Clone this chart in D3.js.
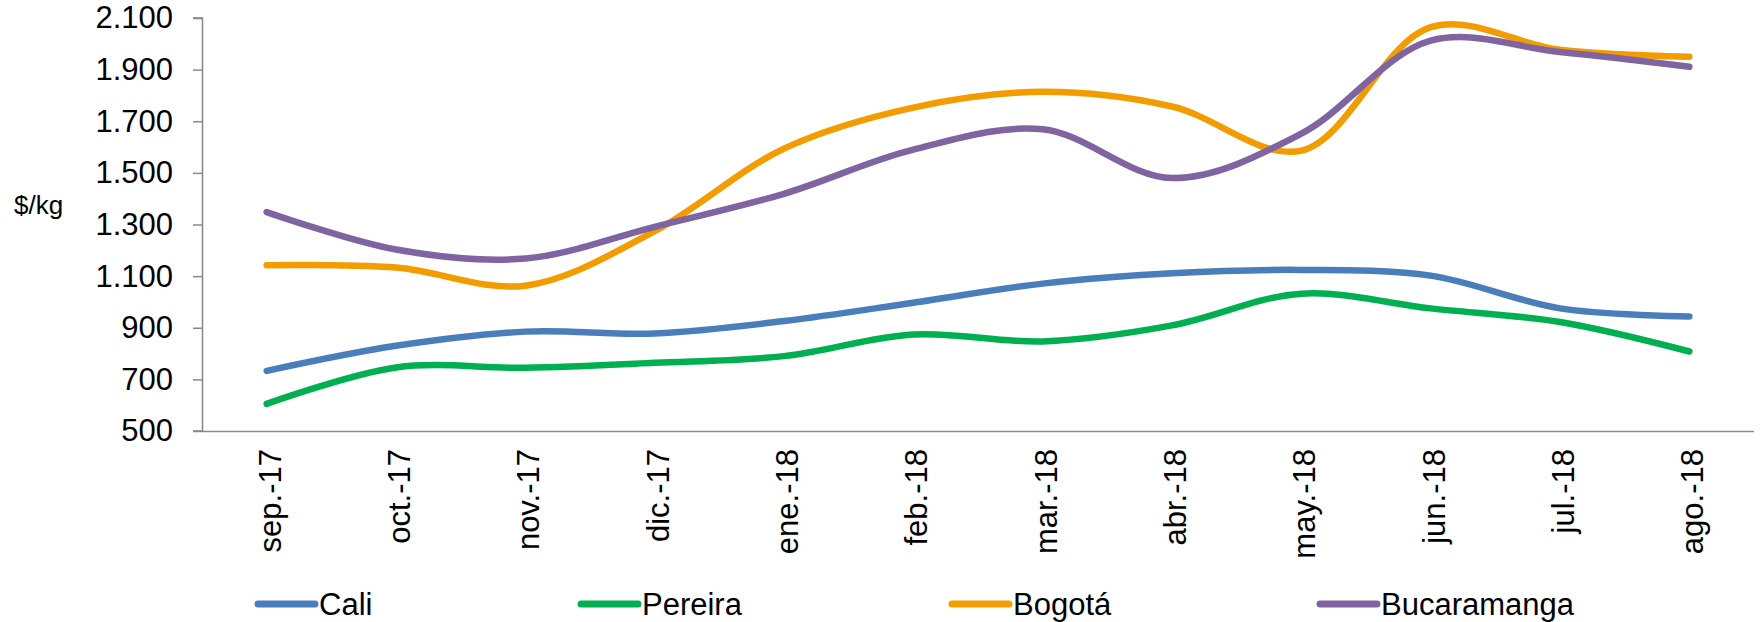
<!DOCTYPE html>
<html>
<head>
<meta charset="utf-8">
<script src="https://cdn.jsdelivr.net/npm/d3@7"></script>
<style>
  body { margin: 0; background: #fff; overflow: hidden; }
  text { font-family: "Liberation Sans", Arial, sans-serif; fill: #000; }
</style>
</head>
<body>
<div id="chart"></div>
<script>
// Months on the x axis
const months = ['sep.-17', 'oct.-17', 'nov.-17', 'dic.-17', 'ene.-18', 'feb.-18',
  'mar.-18', 'abr.-18', 'may.-18', 'jun.-18', 'jul.-18', 'ago.-18'];

// Price per city ($/kg)
const cali = [733, 830, 885, 878, 926, 997, 1071, 1111, 1124, 1102, 975, 944];
const pereira = [605, 746, 745, 764, 790, 874, 847, 909, 1032, 975, 922, 808];
const bogota = [1142, 1133, 1063, 1274, 1594, 1753, 1814, 1757, 1586, 2065, 1977, 1950];
const bucaramanga = [1348, 1203, 1168, 1291, 1419, 1590, 1669, 1480, 1652, 2012, 1968, 1911];

const yTicks = [500, 700, 900, 1100, 1300, 1500, 1700, 1900, 2100];

const series = [
  { name: 'Cali', values: cali, color: '#4a7ebb' },
  { name: 'Pereira', values: pereira, color: '#00b050' },
  { name: 'Bogotá', values: bogota, color: '#f39c00' },
  { name: 'Bucaramanga', values: bucaramanga, color: '#8064a2' }
];

const width = 1762, height = 622;
const margin = { top: 18, right: 8, bottom: 191, left: 202 };
const innerWidth = width - margin.left - margin.right;
const innerHeight = height - margin.top - margin.bottom;

const svg = d3.select('#chart').append('svg')
  .attr('width', width)
  .attr('height', height);

const g = svg.append('g')
  .attr('transform', `translate(${margin.left}, ${margin.top})`);

// Scales
const x = d3.scalePoint()
  .domain(months)
  .range([0, innerWidth])
  .padding(0.5);
const y = d3.scaleLinear()
  .domain([500, 2100])
  .range([innerHeight, 0]);

// Y axis (dot as thousands separator)
const fmt = d3.formatLocale({ decimal: ',', thousands: '.', grouping: [3], currency: ['$', ''] }).format(',d');
const yAxis = g.append('g')
  .call(d3.axisLeft(y).tickValues(yTicks).tickFormat(fmt).tickSize(9).tickPadding(20));
yAxis.selectAll('text').style('font-size', '31px');
yAxis.selectAll('line').attr('stroke', '#888').attr('stroke-width', 1.5);
yAxis.select('.domain').attr('stroke', '#888').attr('stroke-width', 1.5)
  .attr('d', `M-9,${innerHeight}H0.5V0H-9`);

// X axis
const xAxis = g.append('g')
  .attr('transform', `translate(0, ${innerHeight})`)
  .call(d3.axisBottom(x).tickSize(0));
xAxis.select('.domain').attr('stroke', '#888').attr('stroke-width', 1.5)
  .attr('d', `M0,0.5H${innerWidth}`);
xAxis.selectAll('text')
  .style('font-size', '31px')
  .attr('text-anchor', 'end')
  .attr('transform', 'rotate(-90)')
  .attr('x', -18)
  .attr('y', 0)
  .attr('dy', '0.43em');

// Y axis title
svg.append('text')
  .attr('x', 14)
  .attr('y', 214)
  .style('font-size', '26px')
  .text('$/kg');

// Smoothed lines
const line = d3.line()
  .x((d, i) => x(months[i]))
  .y(d => y(d))
  .curve(d3.curveCatmullRom.alpha(0.5));

g.selectAll('.series')
  .data(series)
  .join('path')
  .attr('class', 'series')
  .attr('d', d => line(d.values))
  .attr('fill', 'none')
  .attr('stroke', d => d.color)
  .attr('stroke-width', 6.5)
  .attr('stroke-linecap', 'round');

// Legend
const legendX = [258, 581, 952, 1320];
const legend = svg.selectAll('.legend')
  .data(series)
  .join('g')
  .attr('class', 'legend')
  .attr('transform', (d, i) => `translate(${legendX[i]}, 604)`);

legend.append('line')
  .attr('x1', 0)
  .attr('x2', 57)
  .attr('stroke', d => d.color)
  .attr('stroke-width', 7)
  .attr('stroke-linecap', 'round');

legend.append('text')
  .attr('x', 61)
  .attr('dy', '0.36em')
  .style('font-size', '31px')
  .text(d => d.name);
</script>
</body>
</html>
